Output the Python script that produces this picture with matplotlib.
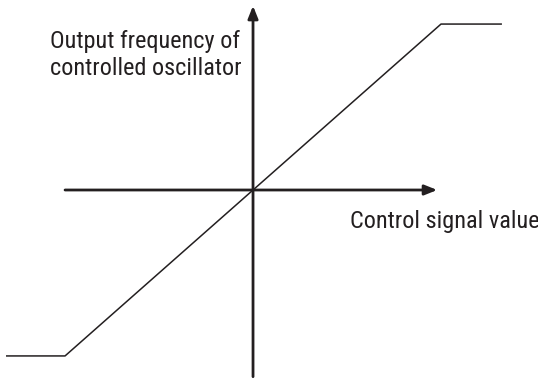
import matplotlib
matplotlib.use("Agg")
import matplotlib.pyplot as plt

# transfer curve of the controlled oscillator (normalised units)
control = [-1.31, -1.0, 1.0, 1.32]
frequency = [-1.0, -1.0, 1.0, 1.0]

# axis extents (x axis from, to; y axis from, to)
x_axis = [-1.0, 0.98]
y_axis = [-1.125, 1.11]

ink = '#231f20'
plt.rcParams['font.family'] = ['Roboto Condensed', 'DejaVu Sans']

fig = plt.figure(figsize=(5.38, 3.8), dpi=100)
ax = fig.add_axes([0, 0, 1, 1])
ax.set_xlim(-1.346, 1.516)
ax.set_ylim(-1.145, 1.145)
ax.axis('off')

arrow = dict(arrowstyle='-|>,head_length=0.75,head_width=0.3', color=ink,
             lw=2.0, shrinkA=0, shrinkB=0)
ax.annotate('', xy=(x_axis[1], 0), xytext=(x_axis[0], 0), arrowprops=arrow)
ax.annotate('', xy=(0, y_axis[1]), xytext=(0, y_axis[0]), arrowprops=arrow)

ax.plot(control, frequency, color=ink, lw=1.1)

ax.text(-1.08, 0.693, 'Output frequency of\ncontrolled oscillator', fontsize=17.5,
        color=ink, ha='left', va='baseline', linespacing=1.2)
ax.text(0.516, -0.229, 'Control signal value', fontsize=17.5, color=ink,
        ha='left', va='baseline')

fig.savefig('out.png', dpi=100)
